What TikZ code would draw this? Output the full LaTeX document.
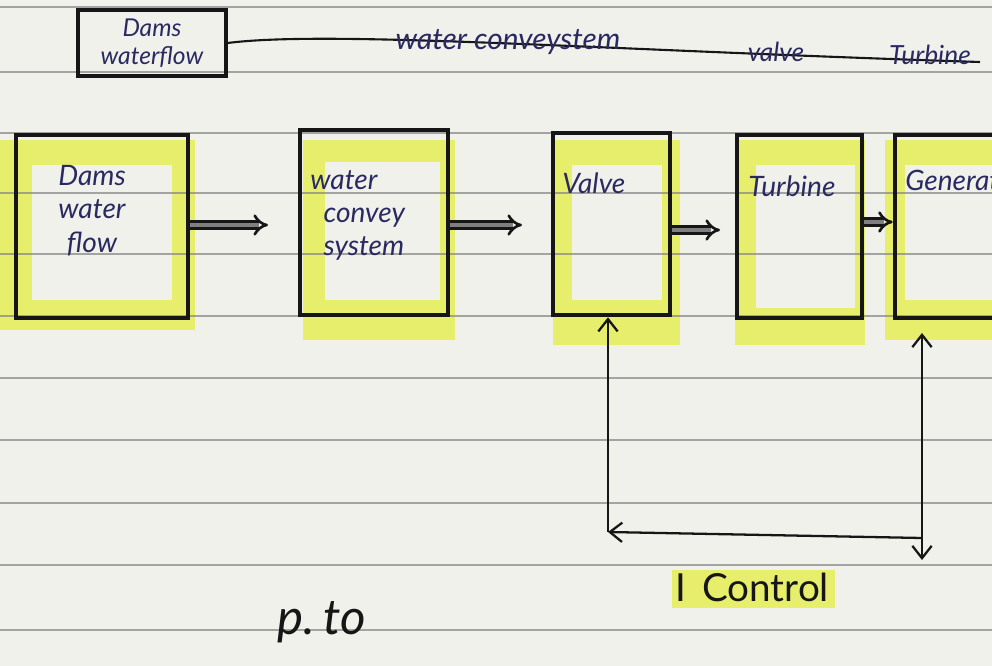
\documentclass[tikz,border=0pt]{standalone}
\usepackage{fontspec}
\setmainfont{Lato}
\usetikzlibrary{arrows.meta}
\definecolor{paper}{HTML}{F1F1EC}
\definecolor{ruled}{HTML}{8A8A88}
\definecolor{hl}{HTML}{E6EE6C}
\definecolor{ink}{HTML}{2A2A62}
\definecolor{pen}{HTML}{161616}
\tikzset{
  blockbox/.style={draw=pen, line width=2.6pt, minimum height=3.66cm, inner sep=0pt},
  lbl/.style={text=ink, font=\fontsize{16}{19}\selectfont\itshape, align=left, anchor=north west, inner sep=0pt},
  flowarrow/.style={draw=pen, line width=1.5pt, double=pen!55, double distance=2.5pt, -{Implies}},
  ctrl/.style={draw=pen, line width=1.3pt},
  barb/.tip={Straight Barb[length=7pt,width=11pt]},
  ruleline/.style={draw=ruled, line width=1.1pt, opacity=0.75}
}
\begin{document}
\begin{tikzpicture}[x=0.02cm,y=-0.02cm]
\fill[paper] (0,0) rectangle (992,666);
\useasboundingbox (0,0) rectangle (992,666);
\begin{scope}
\clip (0,0) rectangle (992,666);
% highlights
\fill[hl] (0,140) rectangle (195,330);
\fill[paper] (32,165) rectangle (172,300);
\fill[hl] (303,140) rectangle (455,340);
\fill[paper] (325,162) rectangle (440,300);
\fill[hl] (553,140) rectangle (680,345);
\fill[paper] (572,165) rectangle (662,300);
\fill[hl] (735,140) rectangle (865,345);
\fill[paper] (756,165) rectangle (855,308);
\fill[hl] (885,140) rectangle (992,340);
\fill[paper] (905,165) rectangle (992,300);
\fill[hl] (672,570) rectangle (835,608);
% ruled lines
\foreach \yy in {7,72,133,193,254,316,378,440,503,565,630}
  \draw[ruleline] (0,\yy) -- (992,\yy);
% header
\node[draw=pen, line width=1.8pt, minimum width=2.96cm, minimum height=1.32cm, text=ink,
      font=\fontsize{14}{16}\selectfont\itshape, align=center] (hdr) at (152,43) {Dams\\waterflow};
\coordinate (tend) at (980,62);
\draw[pen, line width=1.2pt] (hdr.east) .. controls (330,30) and (600,50) .. (tend);
\node[text=ink, font=\fontsize{17}{19}\selectfont\itshape] (hw) at (508,42) {water conveystem};
\node[text=ink, font=\fontsize{15}{17}\selectfont\itshape] (hv) at (776,52) {valve};
\node[text=ink, font=\fontsize{15}{17}\selectfont\itshape] (ht) at (930,55) {Turbine};
% blocks
\node[blockbox, minimum width=3.44cm] (dams) at (102,226.5) {};
\node[blockbox, minimum width=2.96cm, minimum height=3.7cm] (conv) at (374,222.5) {};
\node[blockbox, minimum width=2.34cm, minimum height=3.64cm] (valve) at (611.5,224) {};
\node[blockbox, minimum width=2.5cm] (turb) at (799.5,226.5) {};
\node[blockbox, minimum width=2.3cm] (gen) at (952.5,226.5) {};
% labels
\node[lbl, align=center, anchor=north] (t1) at (92,165) {Dams\\water\\flow};
\node[lbl] (t2) at (310,170) {water\\\ \ convey\\\ \ system};
\node[lbl] (t3) at (562,172) {Valve};
\node[lbl] (t4) at (748,175) {Turbine};
\node[lbl] (t5) at (905,170) {Generator};
% flow arrows
\draw[flowarrow] (dams.east |- 0,225) -- (268,225);
\draw[flowarrow] (conv.east |- 0,225) -- (522,225);
\draw[flowarrow] (valve.east |- 0,230) -- (720,230);
\draw[flowarrow] (turb.east |- 0,222) -- (gen.west |- 0,222);
% control loop
\coordinate (bl) at (608,532);
\coordinate (br) at (922,538);
\coordinate (gtop) at (922,333);
\coordinate (rbot) at (922,560);
\draw[ctrl, -{barb}] (bl) -- (bl |- valve.south);
\draw[ctrl, -{barb}] (br) -- (bl);
\draw[ctrl, {barb}-{barb}] (rbot) -- (gtop);
\node[text=pen, font=\fontsize{22}{24}\selectfont] (ctl) at (752,587) {I \,Control};
\node[text=pen, font=\fontsize{28}{30}\selectfont\itshape] (pto) at (322,622) {p.\,to};
\end{scope}
\end{tikzpicture}
\end{document}
